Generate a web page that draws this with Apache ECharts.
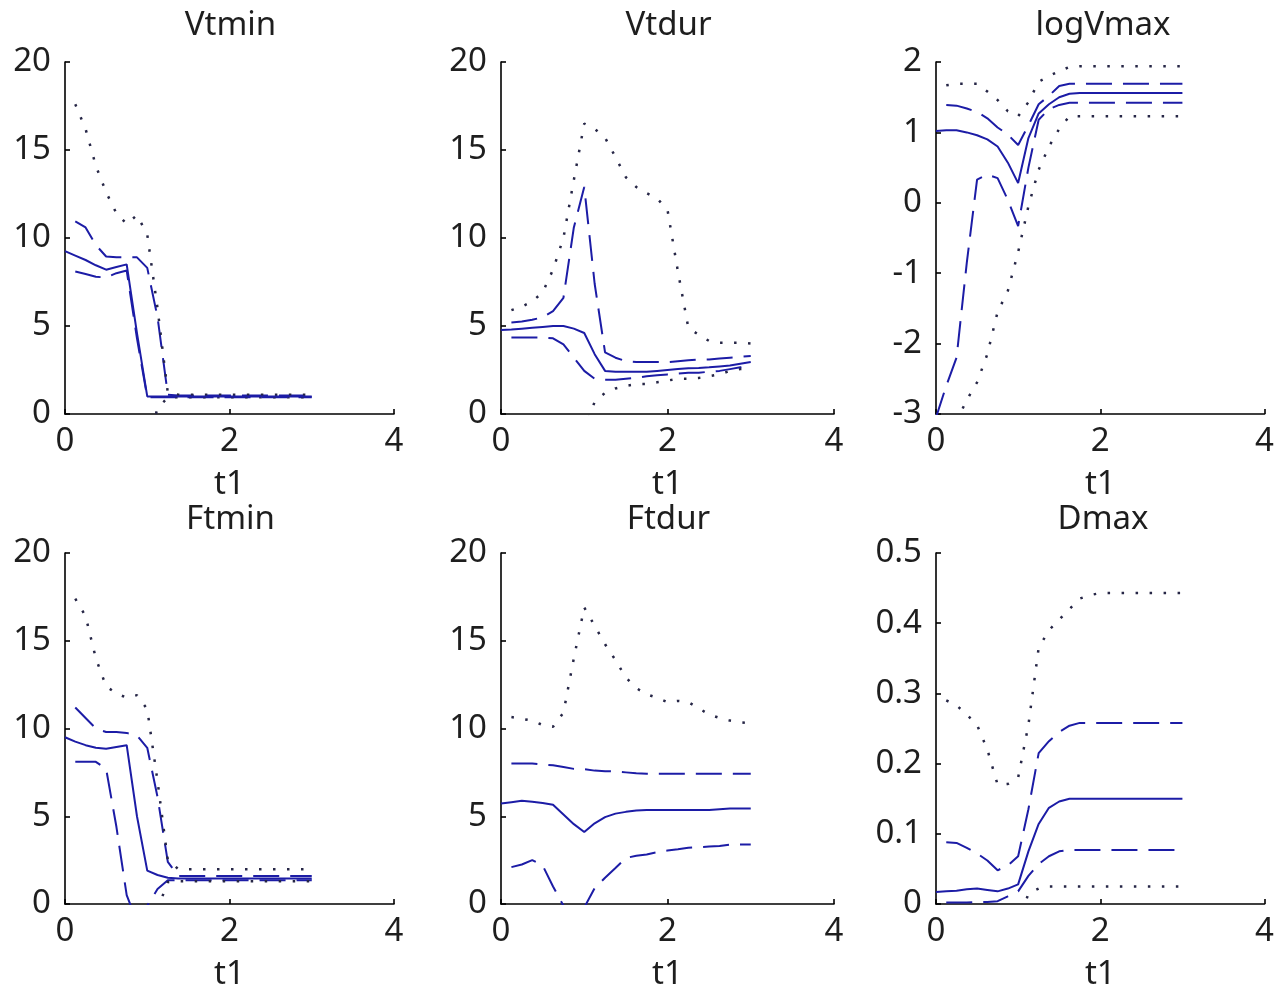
<!DOCTYPE html>
<html>
<head>
<meta charset="utf-8">
<script src="https://cdn.jsdelivr.net/npm/echarts@6/dist/echarts.min.js"></script>
<style>
  html, body { margin: 0; padding: 0; background: #ffffff; }
  #chart { width: 1277px; height: 992px; }
</style>
</head>
<body>
<div id="chart"></div>
<script>
// Shared abscissa (t1), step 1/8
const t1 = [0, 0.125, 0.25, 0.375, 0.5, 0.625, 0.75, 0.875, 1, 1.125, 1.25, 1.375, 1.5,
            1.625, 1.75, 1.875, 2, 2.125, 2.25, 2.375, 2.5, 2.625, 2.75, 2.875, 3];

const xTicks = [0, 2, 4];

// ---- Vtmin ----
const vtminMid     = [9.25, 9.0, 8.75, 8.45, 8.2, 8.35, 8.5, 4.6, 1.0, 1.0, 1.0, 1.0, 1.0, 1.0, 1.0, 1.0, 1.0, 1.0, 1.0, 1.0, 1.0, 1.0, 1.0, 1.0, 1.0];
const vtminInnerHi = [null, 10.95, 10.6, 9.6, 8.95, 8.9, 8.9, 8.9, 8.3, 5.5, 1.1, 1.05, 1.05, 1.05, 1.05, 1.05, 1.05, 1.05, 1.05, 1.05, 1.05, 1.05, 1.05, 1.05, 1.05];
const vtminInnerLo = [null, 8.1, 7.95, 7.8, 7.75, 8.0, 8.15, 4.3, 0.95, 0.95, 0.95, 0.95, 0.95, 0.95, 0.95, 0.95, 0.95, 0.95, 0.95, 0.95, 0.95, 0.95, 0.95, 0.95, 0.95];
const vtminOuterHi = [null, 17.6, 16.2, 14.1, 12.6, 11.4, 10.8, 11.3, 10.2, 6.0, 1.2, 1.1, 1.1, 1.1, 1.1, 1.1, 1.1, 1.1, 1.1, 1.1, 1.1, 1.1, 1.1, 1.1, 1.1];
const vtminOuterLo = [null, null, null, null, null, null, null, null, -1.5, 0.3, 0.95, 0.95, 0.95, 0.95, 0.95, 0.95, 0.95, 0.95, 0.95, 0.95, 0.95, 0.95, 0.95, 0.95, 0.95];

// ---- Vtdur ----
const vtdurMid     = [4.77, 4.8, 4.85, 4.9, 4.95, 5.0, 5.0, 4.85, 4.6, 3.4, 2.45, 2.4, 2.4, 2.4, 2.4, 2.45, 2.5, 2.55, 2.6, 2.62, 2.65, 2.7, 2.75, 2.85, 2.95];
const vtdurInnerHi = [null, 5.2, 5.25, 5.35, 5.5, 5.85, 6.6, 10.6, 12.9, 7.4, 3.5, 3.2, 3.0, 2.95, 2.95, 2.95, 2.95, 3.0, 3.05, 3.1, 3.1, 3.15, 3.2, 3.25, 3.3];
const vtdurInnerLo = [null, 4.35, 4.35, 4.35, 4.35, 4.3, 3.95, 3.2, 2.45, 2.0, 1.95, 1.95, 2.0, 2.05, 2.15, 2.2, 2.25, 2.3, 2.35, 2.35, 2.4, 2.45, 2.55, 2.65, 2.75];
const vtdurOuterHi = [null, 5.9, 6.1, 6.4, 6.9, 8.2, 10.0, 13.3, 16.5, 16.2, 15.7, 14.6, 13.45, 12.9, 12.55, 12.25, 11.6, 8.1, 4.9, 4.5, 4.15, 4.05, 4.05, 4.05, 4.0];
const vtdurOuterLo = [null, null, null, null, null, null, null, null, -1.0, 0.7, 1.2, 1.45, 1.6, 1.7, 1.7, 1.8, 1.9, 2.0, 2.0, 2.05, 2.15, 2.25, 2.45, 2.55, 2.6];

// ---- logVmax ----
const lvmMid     = [1.02, 1.03, 1.03, 1.0, 0.96, 0.9, 0.8, 0.57, 0.28, 0.92, 1.27, 1.4, 1.5, 1.55, 1.56, 1.56, 1.56, 1.56, 1.56, 1.56, 1.56, 1.56, 1.56, 1.56, 1.56];
const lvmInnerHi = [null, 1.39, 1.38, 1.34, 1.29, 1.2, 1.07, 0.97, 0.82, 1.1, 1.4, 1.52, 1.66, 1.69, 1.69, 1.69, 1.69, 1.69, 1.69, 1.69, 1.69, 1.69, 1.69, 1.69, 1.69];
const lvmInnerLo = [-3.05, -2.6, -2.2, -0.85, 0.33, 0.4, 0.35, 0.04, -0.33, 0.5, 1.18, 1.33, 1.39, 1.42, 1.42, 1.42, 1.42, 1.42, 1.42, 1.42, 1.42, 1.42, 1.42, 1.42, 1.42];
const lvmOuterHi = [null, 1.67, 1.69, 1.69, 1.69, 1.58, 1.46, 1.3, 1.23, 1.43, 1.72, 1.8, 1.87, 1.93, 1.94, 1.94, 1.94, 1.94, 1.94, 1.94, 1.94, 1.94, 1.94, 1.94, 1.94];
const lvmOuterLo = [null, null, -3.1, -2.8, -2.55, -2.15, -1.55, -1.25, -0.7, -0.05, 0.47, 0.8, 1.05, 1.23, 1.23, 1.23, 1.23, 1.23, 1.23, 1.23, 1.23, 1.23, 1.23, 1.23, 1.23];

// ---- Ftmin ----
const ftminMid     = [9.5, 9.25, 9.05, 8.9, 8.85, 8.95, 9.05, 5.0, 1.9, 1.65, 1.5, 1.45, 1.45, 1.45, 1.45, 1.45, 1.45, 1.45, 1.45, 1.45, 1.45, 1.45, 1.45, 1.45, 1.45];
const ftminInnerHi = [null, 11.2, 10.6, 10.0, 9.8, 9.8, 9.75, 9.6, 8.9, 6.1, 2.4, 1.6, 1.6, 1.6, 1.6, 1.6, 1.6, 1.6, 1.6, 1.6, 1.6, 1.6, 1.6, 1.6, 1.6];
const ftminInnerLo = [null, 8.1, 8.1, 8.1, 7.7, 4.4, 0.5, -1.0, -0.1, 0.85, 1.35, 1.35, 1.35, 1.35, 1.35, 1.35, 1.35, 1.35, 1.35, 1.35, 1.35, 1.35, 1.35, 1.35, 1.35];
const ftminOuterHi = [null, 17.4, 16.4, 14.0, 12.4, 12.0, 11.75, 11.9, 11.1, 7.0, 2.5, 2.0, 1.98, 1.98, 1.98, 1.98, 1.98, 1.98, 1.98, 1.98, 1.98, 1.98, 1.98, 1.98, 1.98];
const ftminOuterLo = [null, null, null, null, null, null, null, null, null, -0.3, 1.25, 1.3, 1.3, 1.3, 1.3, 1.3, 1.3, 1.3, 1.3, 1.3, 1.3, 1.3, 1.3, 1.3, 1.3];

// ---- Ftdur ----
const ftdurMid     = [5.72, 5.8, 5.88, 5.82, 5.75, 5.65, 5.1, 4.55, 4.1, 4.6, 4.95, 5.15, 5.25, 5.33, 5.35, 5.35, 5.35, 5.35, 5.35, 5.35, 5.35, 5.4, 5.44, 5.44, 5.44];
const ftdurInnerHi = [null, 8.0, 8.0, 8.0, 7.95, 7.9, 7.8, 7.7, 7.68, 7.6, 7.57, 7.55, 7.5, 7.45, 7.42, 7.42, 7.42, 7.42, 7.42, 7.42, 7.42, 7.42, 7.42, 7.42, 7.42];
const ftdurInnerLo = [null, 2.1, 2.25, 2.5, 2.2, 1.0, -0.1, -1.0, -0.2, 0.9, 1.5, 2.05, 2.62, 2.75, 2.82, 2.95, 3.05, 3.12, 3.2, 3.24, 3.27, 3.3, 3.38, 3.39, 3.39];
const ftdurOuterHi = [null, 10.65, 10.55, 10.45, 10.2, 10.1, 10.9, 14.0, 16.9, 15.85, 14.8, 13.9, 12.9, 12.3, 11.95, 11.75, 11.5, 11.57, 11.5, 11.15, 10.8, 10.6, 10.45, 10.35, 10.3];

// ---- Dmax ----
const dmaxMid     = [0.017, 0.018, 0.019, 0.021, 0.022, 0.02, 0.018, 0.022, 0.028, 0.075, 0.114, 0.137, 0.146, 0.15, 0.15, 0.15, 0.15, 0.15, 0.15, 0.15, 0.15, 0.15, 0.15, 0.15, 0.15];
const dmaxInnerHi = [null, 0.088, 0.087, 0.08, 0.072, 0.062, 0.048, 0.055, 0.068, 0.135, 0.215, 0.232, 0.245, 0.254, 0.258, 0.258, 0.258, 0.258, 0.258, 0.258, 0.258, 0.258, 0.258, 0.258, 0.258];
const dmaxInnerLo = [null, 0.002, 0.002, 0.002, 0.003, 0.003, 0.004, 0.011, 0.018, 0.04, 0.057, 0.068, 0.075, 0.077, 0.077, 0.077, 0.077, 0.077, 0.077, 0.077, 0.077, 0.077, 0.077, 0.077, 0.077];
const dmaxOuterHi = [null, 0.29, 0.283, 0.27, 0.255, 0.22, 0.17, 0.171, 0.18, 0.255, 0.365, 0.39, 0.405, 0.42, 0.435, 0.44, 0.443, 0.443, 0.443, 0.443, 0.443, 0.443, 0.443, 0.443, 0.443];
const dmaxOuterLo = [null, null, null, null, null, null, null, null, -0.03, 0.015, 0.022, 0.025, 0.025, 0.025, 0.025, 0.025, 0.025, 0.025, 0.025, 0.025, 0.025, 0.025, 0.025, 0.025, 0.025];

// Panel contents (row-major)
const panels = [
  { title: 'Vtmin',   yMin: 0,  yMax: 20,  yStep: 5,   lines: { mid: vtminMid, innerHi: vtminInnerHi, innerLo: vtminInnerLo, outerHi: vtminOuterHi, outerLo: vtminOuterLo } },
  { title: 'Vtdur',   yMin: 0,  yMax: 20,  yStep: 5,   lines: { mid: vtdurMid, innerHi: vtdurInnerHi, innerLo: vtdurInnerLo, outerHi: vtdurOuterHi, outerLo: vtdurOuterLo } },
  { title: 'logVmax', yMin: -3, yMax: 2,   yStep: 1,   lines: { mid: lvmMid, innerHi: lvmInnerHi, innerLo: lvmInnerLo, outerHi: lvmOuterHi, outerLo: lvmOuterLo } },
  { title: 'Ftmin',   yMin: 0,  yMax: 20,  yStep: 5,   lines: { mid: ftminMid, innerHi: ftminInnerHi, innerLo: ftminInnerLo, outerHi: ftminOuterHi, outerLo: ftminOuterLo } },
  { title: 'Ftdur',   yMin: 0,  yMax: 20,  yStep: 5,   lines: { mid: ftdurMid, innerHi: ftdurInnerHi, innerLo: ftdurInnerLo, outerHi: ftdurOuterHi } },
  { title: 'Dmax',    yMin: 0,  yMax: 0.5, yStep: 0.1, lines: { mid: dmaxMid, innerHi: dmaxInnerHi, innerLo: dmaxInnerLo, outerHi: dmaxOuterHi, outerLo: dmaxOuterLo } }
];

// Layout of the 2x3 grid of axes (pixels)
const colLeft = [65, 501, 936];
const colWidth = [329, 333, 332];
const rowTop = [62, 553];
const rowHeight = [352, 354];
const titleTop = [4, 498];

const FONT = 'Noto Sans';
const TEXT_COLOR = '#1e1e1e';
const LINE_BLUE = '#1c1ca6';
const DOT_COLOR = '#262646';

const styleOf = {
  mid:     { color: LINE_BLUE, width: 2, type: 'solid' },
  innerHi: { color: LINE_BLUE, width: 2, type: [26, 11] },
  innerLo: { color: LINE_BLUE, width: 2, type: [26, 11] },
  outerHi: { color: DOT_COLOR, width: 2.5, type: [2.5, 11.5] },
  outerLo: { color: DOT_COLOR, width: 2.5, type: [2.5, 11.5] }
};

function pairs(values) {
  const out = [];
  values.forEach((v, i) => { if (v !== null) out.push([t1[i], v]); });
  return out;
}

const grids = [], xAxes = [], yAxes = [], titles = [], series = [];

panels.forEach((p, k) => {
  const row = Math.floor(k / 3), col = k % 3;
  grids.push({
    left: colLeft[col], top: rowTop[row], width: colWidth[col], height: rowHeight[row],
    containLabel: false
  });
  titles.push({
    text: p.title,
    left: colLeft[col] + colWidth[col] / 2 - 4,
    top: titleTop[row],
    textAlign: 'center',
    textStyle: { fontFamily: FONT, fontSize: 33, fontWeight: 'normal', color: TEXT_COLOR }
  });
  xAxes.push({
    gridIndex: k, type: 'value', min: xTicks[0], max: xTicks[xTicks.length - 1], interval: xTicks[1] - xTicks[0],
    name: 't1', nameLocation: 'middle', nameGap: 54,
    nameTextStyle: { fontFamily: FONT, fontSize: 33, color: TEXT_COLOR },
    axisLine: { show: true, onZero: false, lineStyle: { color: '#000', width: 1.6 } },
    axisTick: { show: true, inside: true, length: 5, lineStyle: { color: '#000', width: 1.6 } },
    axisLabel: { fontFamily: FONT, fontSize: 33, color: TEXT_COLOR, margin: 11 },
    splitLine: { show: false }
  });
  yAxes.push({
    gridIndex: k, type: 'value', min: p.yMin, max: p.yMax, interval: p.yStep,
    axisLine: { show: true, onZero: false, lineStyle: { color: '#000', width: 1.6 } },
    axisTick: { show: true, inside: true, length: 5, lineStyle: { color: '#000', width: 1.6 } },
    axisLabel: { fontFamily: FONT, fontSize: 33, color: TEXT_COLOR, margin: 14 },
    splitLine: { show: false }
  });
  Object.keys(p.lines).forEach(key => {
    series.push({
      type: 'line',
      name: p.title + ' ' + key,
      xAxisIndex: k, yAxisIndex: k,
      data: pairs(p.lines[key]),
      showSymbol: false,
      symbol: 'none',
      smooth: false,
      clip: true,
      silent: true,
      lineStyle: styleOf[key],
      z: key === 'mid' ? 3 : 2
    });
  });
});

const chart = echarts.init(document.getElementById('chart'), null, { renderer: 'canvas' });
chart.setOption({
  animation: false,
  backgroundColor: '#ffffff',
  title: titles,
  grid: grids,
  xAxis: xAxes,
  yAxis: yAxes,
  series: series
});
</script>
</body>
</html>
